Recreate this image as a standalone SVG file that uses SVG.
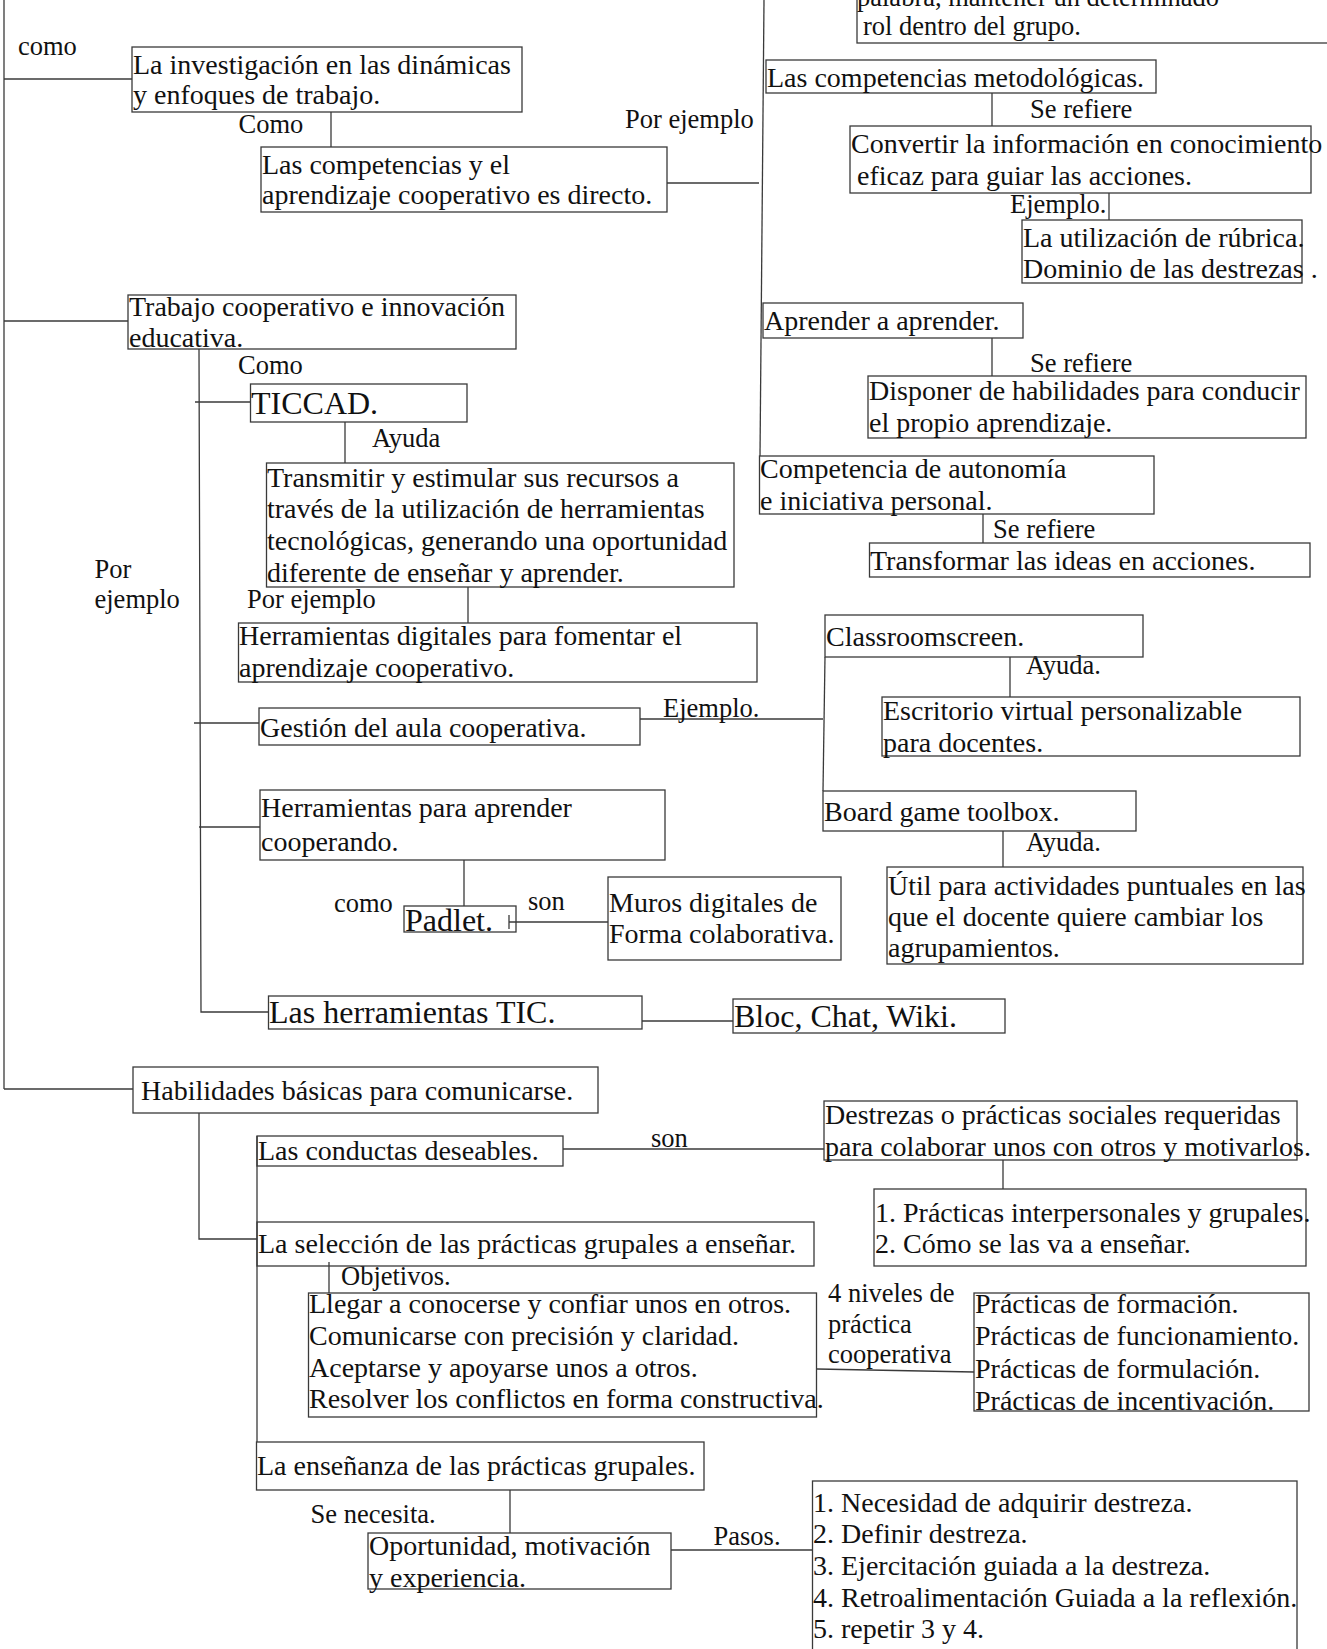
<svg xmlns="http://www.w3.org/2000/svg" width="1327" height="1649" viewBox="0 0 1327 1649">
<style>
rect.b{fill:none;stroke:#3a3a3a;stroke-width:1.3}
.c line,.c polyline{stroke:#3a3a3a;stroke-width:1.3;fill:none}
text{font-family:"Liberation Serif","Times New Roman",serif;fill:#111}
.t{font-size:28px}
.L{font-size:32px}
.l{font-size:26.5px}
</style>
<rect width="1327" height="1649" fill="#fff"/>
<g class="c" id="connectors">
<line x1="4" y1="0" x2="4" y2="1089"/>
<line x1="4" y1="79" x2="132" y2="79"/>
<line x1="4" y1="321" x2="128" y2="321"/>
<line x1="4" y1="1089" x2="133" y2="1089"/>
<line x1="331" y1="112" x2="331" y2="147"/>
<line x1="667" y1="183" x2="759" y2="183"/>
<line x1="764" y1="0" x2="760" y2="456"/>
<line x1="992" y1="93" x2="992" y2="126"/>
<line x1="1109" y1="193" x2="1109" y2="220"/>
<line x1="992" y1="338" x2="992" y2="376"/>
<line x1="983" y1="514" x2="983" y2="543"/>
<polyline points="199,349 201,1012 268.5,1012"/>
<line x1="195" y1="402" x2="250.5" y2="402"/>
<line x1="345" y1="422" x2="345" y2="463"/>
<line x1="468" y1="587" x2="468" y2="623"/>
<line x1="194" y1="723" x2="259" y2="723"/>
<line x1="640" y1="719" x2="823" y2="719"/>
<line x1="825" y1="657" x2="823" y2="791"/>
<line x1="1010" y1="657" x2="1010" y2="697"/>
<line x1="1003" y1="831" x2="1003" y2="867"/>
<line x1="199" y1="827" x2="260" y2="827"/>
<line x1="464" y1="860" x2="464" y2="906"/>
<line x1="509" y1="922" x2="608" y2="922"/>
<line x1="509" y1="915" x2="509" y2="929"/>
<line x1="642" y1="1021" x2="733" y2="1021"/>
<polyline points="199,1113 199,1239 257,1239"/>
<line x1="257" y1="1136" x2="257" y2="1442"/>
<line x1="563" y1="1149" x2="824" y2="1149"/>
<line x1="1003" y1="1160" x2="1003" y2="1189"/>
<line x1="329" y1="1262" x2="329" y2="1293"/>
<line x1="817" y1="1369" x2="974" y2="1372"/>
<line x1="510" y1="1490" x2="510" y2="1533"/>
<line x1="671" y1="1550" x2="812.5" y2="1550"/>
</g>
<g id="labels" class="l">
<text x="18" y="55">como</text>
<text x="238.5" y="133">Como</text>
<text x="625" y="128">Por ejemplo</text>
<text x="1030" y="118">Se refiere</text>
<text x="1010" y="213">Ejemplo.</text>
<text x="238" y="374">Como</text>
<text x="372" y="447">Ayuda</text>
<text x="1030" y="372">Se refiere</text>
<text x="993" y="538">Se refiere</text>
<text x="94.5" y="578">Por</text>
<text x="94.5" y="608">ejemplo</text>
<text x="247" y="608">Por ejemplo</text>
<text x="663" y="717">Ejemplo.</text>
<text x="1026" y="674">Ayuda.</text>
<text x="1026" y="851">Ayuda.</text>
<text x="334" y="912">como</text>
<text x="528" y="910">son</text>
<text x="651" y="1147">son</text>
<text x="341" y="1285">Objetivos.</text>
<text x="828" y="1302">4 niveles de</text>
<text x="828" y="1333">práctica</text>
<text x="828" y="1363">cooperativa</text>
<text x="310.6" y="1523">Se necesita.</text>
<text x="713.5" y="1545">Pasos.</text>
</g>
<g id="n-top" class="l"><rect class="b" x="857" y="-40" width="480" height="83"/><text x="857" y="6">palabra, mantener un determinado</text><text x="863" y="35">rol dentro del grupo.</text></g>
<g id="n-inv" class="t"><rect class="b" x="132" y="47" width="390" height="65"/><text x="133" y="74">La investigación en las dinámicas</text><text x="133" y="104">y enfoques de trabajo.</text></g>
<g id="n-comp" class="t"><rect class="b" x="261" y="147" width="406" height="65"/><text x="262" y="174">Las competencias y el</text><text x="262" y="204">aprendizaje cooperativo es directo.</text></g>
<g id="n-trabajo" class="t"><rect class="b" x="128" y="295" width="388" height="54"/><text x="129" y="316">Trabajo cooperativo e innovación</text><text x="129" y="347">educativa.</text></g>
<g id="n-ticcad" class="L"><rect class="b" x="250.5" y="384" width="216.5" height="38"/><text x="251" y="414">TICCAD.</text></g>
<g id="n-transmitir" class="t"><rect class="b" x="266.5" y="463" width="467.5" height="124"/><text x="267" y="487">Transmitir y estimular sus recursos a</text><text x="267" y="518">través de la utilización de herramientas</text><text x="267" y="550">tecnológicas, generando una oportunidad</text><text x="267" y="582">diferente de enseñar y aprender.</text></g>
<g id="n-herrdig" class="t"><rect class="b" x="238.5" y="623" width="518.5" height="59"/><text x="239" y="645">Herramientas digitales para fomentar el</text><text x="239" y="677">aprendizaje cooperativo.</text></g>
<g id="n-gestion" class="t"><rect class="b" x="259" y="708" width="381" height="37"/><text x="260" y="737">Gestión del aula cooperativa.</text></g>
<g id="n-herrapr" class="t"><rect class="b" x="260" y="790" width="405" height="70"/><text x="261" y="817">Herramientas para aprender</text><text x="261" y="851">cooperando.</text></g>
<g id="n-padlet" class="L"><rect class="b" x="404" y="906" width="112" height="26"/><text x="405" y="931">Padlet.</text></g>
<g id="n-muros" class="t"><rect class="b" x="608" y="877" width="233" height="83"/><text x="609" y="912">Muros digitales de</text><text x="609" y="943">Forma colaborativa.</text></g>
<g id="n-tic" class="L"><rect class="b" x="268.5" y="996" width="373.5" height="33"/><text x="269" y="1023">Las herramientas TIC.</text></g>
<g id="n-bloc" class="L"><rect class="b" x="733" y="999" width="272" height="34"/><text x="734" y="1027">Bloc, Chat, Wiki.</text></g>
<g id="n-metod" class="t"><rect class="b" x="766" y="60" width="390" height="33"/><text x="767" y="87">Las competencias metodológicas.</text></g>
<g id="n-convertir" class="t"><rect class="b" x="850" y="126" width="461" height="67"/><text x="851" y="153">Convertir la información en conocimiento</text><text x="857" y="185">eficaz para guiar las acciones.</text></g>
<g id="n-rubrica" class="t"><rect class="b" x="1022" y="220" width="280" height="63"/><text x="1023" y="247">La utilización de rúbrica.</text><text x="1023" y="278" xml:space="preserve">Dominio de las destrezas .</text></g>
<g id="n-aprender" class="t"><rect class="b" x="763" y="303" width="260" height="35"/><text x="764" y="330">Aprender a aprender.</text></g>
<g id="n-disponer" class="t"><rect class="b" x="868" y="376" width="438" height="62"/><text x="869" y="400">Disponer de habilidades para conducir</text><text x="869" y="432">el propio aprendizaje.</text></g>
<g id="n-competencia" class="t"><rect class="b" x="759.5" y="456" width="394.5" height="58"/><text x="760" y="478">Competencia de autonomía</text><text x="760" y="510">e iniciativa personal.</text></g>
<g id="n-transformar" class="t"><rect class="b" x="869.5" y="543" width="440.5" height="34"/><text x="870" y="570">Transformar las ideas en acciones.</text></g>
<g id="n-classroom" class="t"><rect class="b" x="825" y="615" width="318" height="42"/><text x="826" y="646">Classroomscreen.</text></g>
<g id="n-escritorio" class="t"><rect class="b" x="882" y="697" width="418" height="59"/><text x="883" y="720">Escritorio virtual personalizable</text><text x="883" y="752">para docentes.</text></g>
<g id="n-board" class="t"><rect class="b" x="823" y="791" width="313" height="40"/><text x="824" y="821">Board game toolbox.</text></g>
<g id="n-util" class="t"><rect class="b" x="887" y="867" width="416" height="97"/><text x="888" y="895">Útil para actividades puntuales en las</text><text x="888" y="926">que el docente quiere cambiar los</text><text x="888" y="957">agrupamientos.</text></g>
<g id="n-habilidades" class="t"><rect class="b" x="133" y="1067" width="465" height="46"/><text x="141" y="1100">Habilidades básicas para comunicarse.</text></g>
<g id="n-conductas" class="t"><rect class="b" x="257" y="1136" width="306" height="30"/><text x="258" y="1160">Las conductas deseables.</text></g>
<g id="n-destrezas" class="t"><rect class="b" x="824" y="1101" width="473" height="59"/><text x="825" y="1124">Destrezas o prácticas sociales requeridas</text><text x="825" y="1156">para colaborar unos con otros y motivarlos.</text></g>
<g id="n-practinter" class="t"><rect class="b" x="874" y="1189" width="432" height="77"/><text x="875" y="1222">1. Prácticas interpersonales y grupales.</text><text x="875" y="1253">2. Cómo se las va a enseñar.</text></g>
<g id="n-seleccion" class="t"><rect class="b" x="257" y="1222" width="557" height="44"/><text x="258" y="1253">La selección de las prácticas grupales a enseñar.</text></g>
<g id="n-objetivos" class="t"><rect class="b" x="308.5" y="1293" width="508" height="124"/><text x="309" y="1313">Llegar a conocerse y confiar unos en otros.</text><text x="309" y="1345">Comunicarse con precisión y claridad.</text><text x="309" y="1377">Aceptarse y apoyarse unos a otros.</text><text x="309" y="1408">Resolver los conflictos en forma constructiva.</text></g>
<g id="n-niveles" class="t"><rect class="b" x="974" y="1293" width="335" height="118"/><text x="975" y="1313">Prácticas de formación.</text><text x="975" y="1345">Prácticas de funcionamiento.</text><text x="975" y="1378">Prácticas de formulación.</text><text x="975" y="1410">Prácticas de incentivación.</text></g>
<g id="n-ensenanza" class="t"><rect class="b" x="256.5" y="1442" width="447.5" height="48"/><text x="257" y="1475">La enseñanza de las prácticas grupales.</text></g>
<g id="n-oportunidad" class="t"><rect class="b" x="368" y="1533" width="303" height="56"/><text x="369" y="1555">Oportunidad, motivación</text><text x="369" y="1587">y experiencia.</text></g>
<g id="n-pasos" class="t"><rect class="b" x="812.5" y="1481" width="484.5" height="200"/><text x="813" y="1512">1. Necesidad de adquirir destreza.</text><text x="813" y="1543">2. Definir destreza.</text><text x="813" y="1575">3. Ejercitación guiada a la destreza.</text><text x="813" y="1607">4. Retroalimentación Guiada a la reflexión.</text><text x="813" y="1638">5. repetir 3 y 4.</text></g>
</svg>
